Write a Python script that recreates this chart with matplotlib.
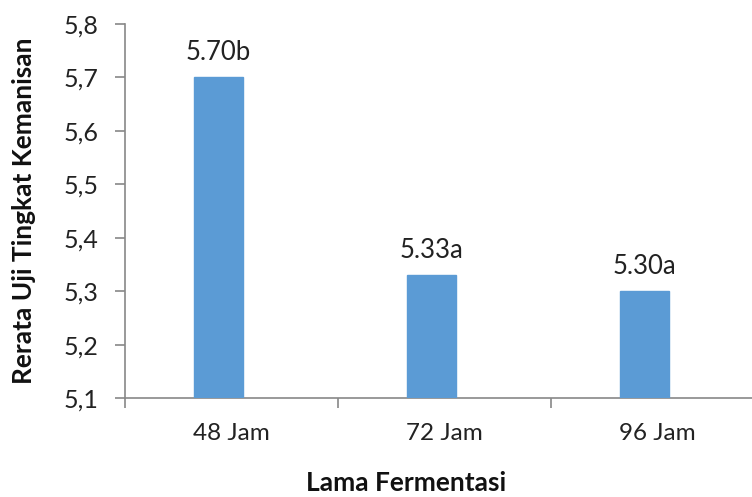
import numpy as np
import matplotlib.pyplot as plt

categories = ["48 Jam", "72 Jam", "96 Jam"]
means = [5.70, 5.33, 5.30]
letters = ["b", "a", "a"]
y_ticks = [5.1, 5.2, 5.3, 5.4, 5.5, 5.6, 5.7, 5.8]

plt.rcParams['font.family'] = ['Lato', 'DejaVu Sans']

fig = plt.figure(figsize=(7.52, 4.97), dpi=100)
ax = fig.add_axes([0.166, 0.199, 0.85, 0.753])

x = np.arange(len(categories))
bars = ax.bar(x - 0.06, np.array(means) - 5.1, bottom=5.1, width=0.23,
              color="#5B9BD5", edgecolor="#5B9BD5", zorder=3)

# mean value plus significance letter above each bar
for b, m, l in zip(bars, means, letters):
    ax.annotate(f"{m:.2f}{l}", (b.get_x() + b.get_width() / 2, m),
                xytext=(0, 9), textcoords="offset points",
                ha="center", va="bottom", fontsize=18.5, color="#222222")

ax.set_xlim(-0.5, 2.5)
ax.set_ylim(5.1, 5.8)
ax.set_yticks(y_ticks)
ax.set_yticklabels([f"{v:.1f}".replace(".", ",") for v in y_ticks])

# category labels centred, tick marks on the category boundaries
ax.set_xticks(x)
ax.set_xticklabels(categories)
ax.set_xticks(np.arange(-0.5, 2.6, 1.0), minor=True)
ax.tick_params(axis="x", which="major", length=0, pad=18, labelsize=17.5, labelcolor="#222222")
ax.tick_params(axis="x", which="minor", length=7, width=1.2, color="#888888")
ax.tick_params(axis="y", length=7, width=1.2, color="#888888", pad=12, labelsize=18, labelcolor="#222222")

for side in ["top", "right"]:
    ax.spines[side].set_visible(False)
for side in ["left", "bottom"]:
    ax.spines[side].set_color("#888888")
    ax.spines[side].set_linewidth(1.2)

ax.set_xlabel("Lama Fermentasi", fontsize=19, fontweight="bold", color="#111111", va="center")
ax.set_ylabel("Rerata Uji Tingkat Kemanisan", fontsize=19, fontweight="bold", color="#111111", va="center")
ax.xaxis.set_label_coords((407 - 125) / 640, -0.228)
ax.yaxis.set_label_coords(-0.158, 0.5)

fig.savefig("out.png", dpi=100)
